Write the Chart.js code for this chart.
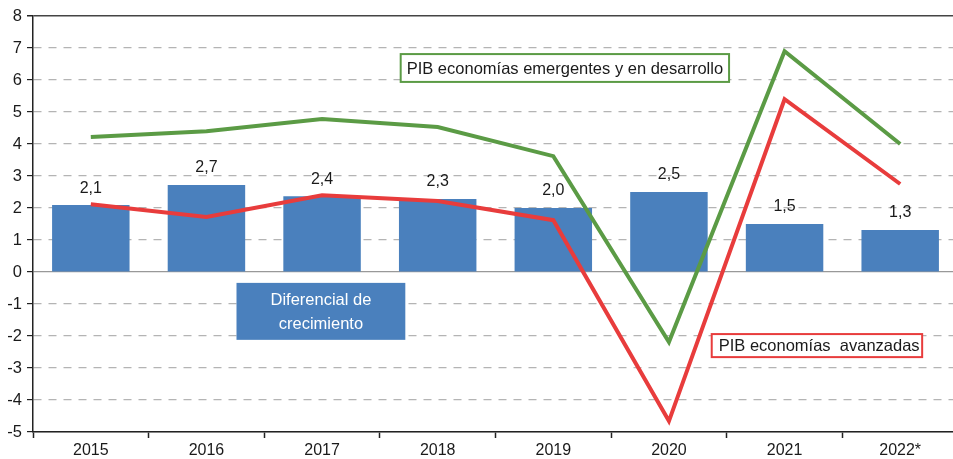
<!DOCTYPE html>
<html>
<head>
<meta charset="utf-8">
<script src="https://cdn.jsdelivr.net/npm/chart.js@4.4.0/dist/chart.umd.min.js"></script>
<style>
  html, body { margin: 0; padding: 0; background: #fff; overflow: hidden; }
  #wrap { width: 958px; height: 459px; }
</style>
</head>
<body>
<div id="wrap"><canvas id="grafico"></canvas></div>
<script>
var anios = ["2015", "2016", "2017", "2018", "2019", "2020", "2021", "2022*"];
var diferencial = [2.09, 2.72, 2.37, 2.28, 2.0, 2.5, 1.5, 1.31];
var emergentes = [4.22, 4.4, 4.78, 4.53, 3.62, -2.19, 6.9, 4.0];
var avanzadas = [2.12, 1.72, 2.4, 2.22, 1.62, -4.66, 5.4, 2.75];

var azul = '#4a80bd';
var verde = '#5b9b45';
var rojo = '#e83c3c';
var fuente = '"Liberation Sans", Arial, sans-serif';

// etiquetas de valor sobre las barras
var etiquetas = {
    id: 'etiquetas',
    afterDatasetsDraw(chart) {
        var ctx = chart.ctx;
        var meta = chart.getDatasetMeta(2);
        ctx.save();
        ctx.font = '16px ' + fuente;
        ctx.fillStyle = '#1a1a1a';
        ctx.textAlign = 'center';
        ctx.textBaseline = 'bottom';
        meta.data.forEach(function (bar, i) {
            var txt = diferencial[i].toFixed(1).replace('.', ',');
            ctx.fillText(txt, bar.x, bar.y - 9);
        });
        ctx.restore();
    }
};

// cajas de texto
var notas = {
    id: 'notas',
    afterDatasetsDraw(chart) {
        var ctx = chart.ctx;
        var x = chart.scales.x;
        var y = chart.scales.y;
        ctx.save();
        ctx.font = '16.5px ' + fuente;
        ctx.textBaseline = 'middle';

        // emergentes
        var x1 = x.getPixelForValue(2.68), x2 = x.getPixelForValue(5.52);
        var y1 = y.getPixelForValue(6.81), y2 = y.getPixelForValue(5.94);
        ctx.fillStyle = '#fff';
        ctx.fillRect(x1, y1, x2 - x1, y2 - y1);
        ctx.strokeStyle = verde;
        ctx.lineWidth = 2;
        ctx.strokeRect(x1, y1, x2 - x1, y2 - y1);
        ctx.fillStyle = '#1a1a1a';
        ctx.textAlign = 'left';
        ctx.fillText('PIB economías emergentes y en desarrollo', x1 + 6, (y1 + y2) / 2 + 1);

        // avanzadas
        x1 = x.getPixelForValue(5.37); x2 = x.getPixelForValue(7.19);
        y1 = y.getPixelForValue(-1.94); y2 = y.getPixelForValue(-2.66);
        ctx.fillStyle = '#fff';
        ctx.fillRect(x1, y1, x2 - x1, y2 - y1);
        ctx.strokeStyle = rojo;
        ctx.strokeRect(x1, y1, x2 - x1, y2 - y1);
        ctx.fillStyle = '#1a1a1a';
        ctx.fillText('PIB economías  avanzadas', x1 + 7, (y1 + y2) / 2 + 1);

        // diferencial
        x1 = x.getPixelForValue(1.26); x2 = x.getPixelForValue(2.72);
        y1 = y.getPixelForValue(-0.34); y2 = y.getPixelForValue(-2.12);
        ctx.fillStyle = azul;
        ctx.fillRect(x1, y1, x2 - x1, y2 - y1);
        ctx.fillStyle = '#fff';
        ctx.textAlign = 'center';
        ctx.fillText('Diferencial de', (x1 + x2) / 2, y1 + 18);
        ctx.fillText('crecimiento', (x1 + x2) / 2, y1 + 42);
        ctx.restore();
    }
};

var grafico = new Chart(document.getElementById('grafico'), {
    type: 'bar',
    data: {
        labels: anios,
        datasets: [{
            type: 'line',
            label: 'PIB economías emergentes y en desarrollo',
            data: emergentes,
            borderColor: verde,
            borderWidth: 4,
            borderJoinStyle: 'miter',
            pointRadius: 0,
            tension: 0,
            order: 1
        }, {
            type: 'line',
            label: 'PIB economías avanzadas',
            data: avanzadas,
            borderColor: rojo,
            borderWidth: 4,
            borderJoinStyle: 'miter',
            pointRadius: 0,
            tension: 0,
            order: 2
        }, {
            type: 'bar',
            label: 'Diferencial de crecimiento',
            data: diferencial,
            backgroundColor: azul,
            barPercentage: 0.67,
            categoryPercentage: 1,
            order: 3
        }]
    },
    options: {
        responsive: true,
        maintainAspectRatio: false,
        animation: false,
        layout: { padding: { top: 16, right: 0, left: 0, bottom: 0 } },
        plugins: {
            legend: { display: false },
            tooltip: { enabled: false }
        },
        scales: {
            x: {
                offset: true,
                grid: {
                    offset: true,
                    drawOnChartArea: false,
                    tickLength: 6,
                    tickColor: '#222',
                    tickWidth: 1.5
                },
                border: { color: '#222', width: 1.5 },
                ticks: {
                    color: '#1a1a1a',
                    padding: 3,
                    font: { family: fuente, size: 16 }
                },
                afterFit: function (s) { s.height = 27; }
            },
            y: {
                min: -5,
                max: 8,
                ticks: {
                    stepSize: 1,
                    color: '#1a1a1a',
                    padding: 5,
                    font: { family: fuente, size: 16.5 }
                },
                grid: {
                    color: function (c) {
                        if (c.tick.value === 8) return '#444';
                        if (c.tick.value === 0) return '#999';
                        return '#b4b4b4';
                    },
                    lineWidth: function (c) {
                        return c.tick.value === 8 ? 1.5 : 1.2;
                    },
                    tickLength: 6,
                    tickColor: '#222'
                },
                border: {
                    color: '#222',
                    width: 1.5,
                    dash: function (c) {
                        if (c.tick && (c.tick.value === 8 || c.tick.value === 0 || c.tick.value === -5)) return [];
                        return [8, 7];
                    }
                },
                afterFit: function (s) { s.width = 33; }
            }
        }
    },
    plugins: [etiquetas, notas]
});
</script>
</body>
</html>
